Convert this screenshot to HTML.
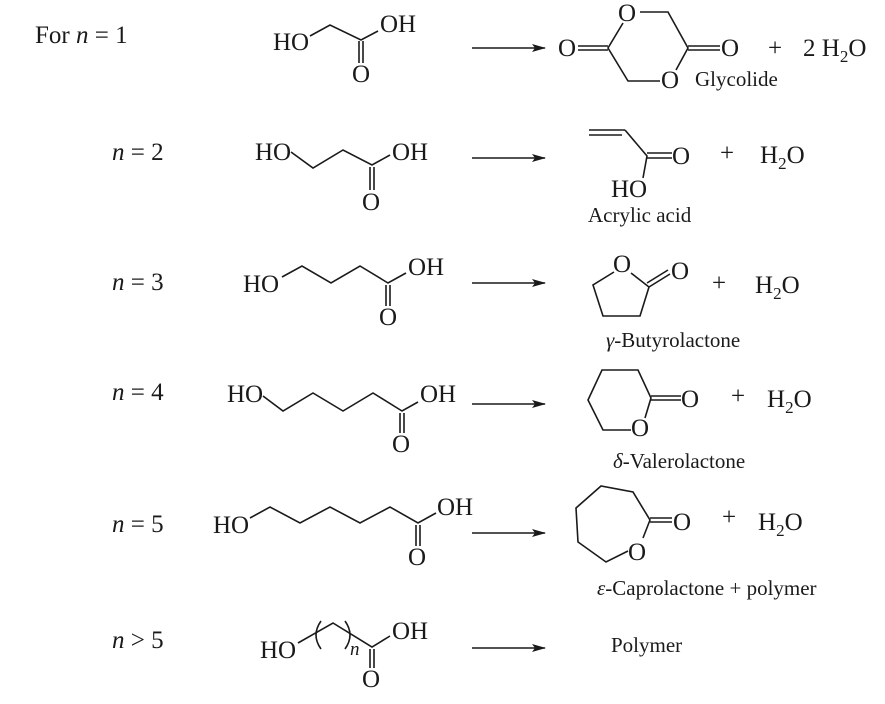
<!DOCTYPE html>
<html><head><meta charset="utf-8"><style>
html,body{margin:0;padding:0;background:#fff}
svg{display:block}
text{font-family:"Liberation Serif",serif;fill:#1a1a1a}
.t{font-size:25px}
.l{font-size:21px}
</style></head><body>
<svg width="885" height="704" viewBox="0 0 885 704" xmlns="http://www.w3.org/2000/svg">
<defs><marker id="ah" markerWidth="14" markerHeight="8" refX="13" refY="4" orient="auto" markerUnits="userSpaceOnUse"><path d="M0,0 L14,4 L0,8 L3,4 Z" fill="#1a1a1a"/></marker></defs>
<g stroke="#1a1a1a" stroke-width="1.6" fill="none">
<line x1="472" y1="48" x2="545" y2="48" marker-end="url(#ah)"/>
<line x1="472" y1="158" x2="545" y2="158" marker-end="url(#ah)"/>
<line x1="472" y1="283" x2="545" y2="283" marker-end="url(#ah)"/>
<line x1="472" y1="404" x2="545" y2="404" marker-end="url(#ah)"/>
<line x1="472" y1="533" x2="545" y2="533" marker-end="url(#ah)"/>
<line x1="472" y1="648" x2="545" y2="648" marker-end="url(#ah)"/>
<polyline points="310,36 330,25 361,40 378,31"/>
<line x1="359" y1="41" x2="359" y2="63"/><line x1="363" y1="41" x2="363" y2="63"/>
<polyline points="623,23 608,48 628,81 660,81"/>
<polyline points="640,12 668,12 688,48 676,70"/>
<line x1="578" y1="46" x2="608" y2="46"/><line x1="578" y1="50" x2="608" y2="50"/>
<line x1="688" y1="46" x2="720" y2="46"/><line x1="688" y1="50" x2="720" y2="50"/>
<polyline points="291,152 313,168 343,150 372,165 390,155"/>
<line x1="370" y1="167" x2="370" y2="190"/><line x1="374" y1="167" x2="374" y2="190"/>
<line x1="589" y1="130" x2="625" y2="130"/><line x1="589" y1="135" x2="622" y2="135"/>
<polyline points="625,130 647,156 643,178"/>
<line x1="647" y1="153" x2="672" y2="153"/><line x1="647" y1="158" x2="672" y2="158"/>
<polyline points="282,277 302,266 331,283 360,266 388,283 406,273"/>
<line x1="386" y1="285" x2="386" y2="306"/><line x1="390" y1="285" x2="390" y2="306"/>
<polyline points="614,272 593,285 603,316 640,316 649,287 631,273"/>
<line x1="649" y1="287" x2="670" y2="274"/><line x1="647" y1="283" x2="668" y2="270"/>
<polyline points="263,396 283,411 313,393 343,411 373,393 402,411 418,402"/>
<line x1="400" y1="413" x2="400" y2="433"/><line x1="404" y1="413" x2="404" y2="433"/>
<polyline points="645,418 651,398 638,370 602,370 588,400 603,430 631,430"/>
<line x1="651" y1="396" x2="681" y2="396"/><line x1="651" y1="400" x2="681" y2="400"/>
<polyline points="250,518 270,507 300,523 330,507 360,523 390,507 418,523 436,513"/>
<line x1="416" y1="525" x2="416" y2="546"/><line x1="420" y1="525" x2="420" y2="546"/>
<polyline points="643,538 650,520 633,492 601,486 576,508 578,542 606,562 628,551"/>
<line x1="650" y1="518" x2="672" y2="518"/><line x1="650" y1="522" x2="672" y2="522"/>
<polyline points="298,643 333,623 372,647 390,636"/>
<path d="M321,621 Q311,635 321,649"/>
<path d="M345,621 Q355,635 345,649"/>
<line x1="370" y1="649" x2="370" y2="668"/><line x1="374" y1="649" x2="374" y2="668"/>
</g>

<text class="t" x="35" y="43">For <tspan font-style="italic">n</tspan> = 1</text>
<text class="t" x="112" y="160"><tspan font-style="italic">n</tspan> = 2</text>
<text class="t" x="112" y="290"><tspan font-style="italic">n</tspan> = 3</text>
<text class="t" x="112" y="400"><tspan font-style="italic">n</tspan> = 4</text>
<text class="t" x="112" y="532"><tspan font-style="italic">n</tspan> = 5</text>
<text class="t" x="112" y="648"><tspan font-style="italic">n</tspan> &gt; 5</text>

<text class="t" x="273" y="50">HO</text>
<text class="t" x="380" y="32">OH</text>
<text class="t" x="352" y="82">O</text>
<text class="t" x="618" y="21">O</text>
<text class="t" x="558" y="56">O</text>
<text class="t" x="721" y="56">O</text>
<text class="t" x="661" y="88">O</text>
<text class="l" x="695" y="86">Glycolide</text>
<text class="t" x="768" y="56">+</text>
<text class="t" x="803" y="56">2 H<tspan font-size="17" dy="6">2</tspan><tspan dy="-6">O</tspan></text>

<text class="t" x="255" y="160">HO</text>
<text class="t" x="392" y="160">OH</text>
<text class="t" x="362" y="210">O</text>
<text class="t" x="672" y="164">O</text>
<text class="t" x="611" y="197">HO</text>
<text class="l" x="588" y="222">Acrylic acid</text>
<text class="t" x="720" y="161">+</text>
<text class="t" x="760" y="163">H<tspan font-size="17" dy="6">2</tspan><tspan dy="-6">O</tspan></text>

<text class="t" x="243" y="292">HO</text>
<text class="t" x="408" y="275">OH</text>
<text class="t" x="379" y="325">O</text>
<text class="t" x="613" y="272">O</text>
<text class="t" x="671" y="279">O</text>
<text class="t" x="712" y="291">+</text>
<text class="t" x="755" y="293">H<tspan font-size="17" dy="6">2</tspan><tspan dy="-6">O</tspan></text>
<text class="l" x="606" y="347"><tspan font-style="italic">γ</tspan>-Butyrolactone</text>

<text class="t" x="227" y="402">HO</text>
<text class="t" x="420" y="402">OH</text>
<text class="t" x="392" y="452">O</text>
<text class="t" x="631" y="436">O</text>
<text class="t" x="681" y="407">O</text>
<text class="t" x="731" y="404">+</text>
<text class="t" x="767" y="407">H<tspan font-size="17" dy="6">2</tspan><tspan dy="-6">O</tspan></text>
<text class="l" x="613" y="468"><tspan font-style="italic">δ</tspan>-Valerolactone</text>

<text class="t" x="213" y="533">HO</text>
<text class="t" x="437" y="515">OH</text>
<text class="t" x="408" y="565">O</text>
<text class="t" x="628" y="560">O</text>
<text class="t" x="673" y="530">O</text>
<text class="t" x="722" y="525">+</text>
<text class="t" x="758" y="530">H<tspan font-size="17" dy="6">2</tspan><tspan dy="-6">O</tspan></text>
<text class="l" x="597" y="595"><tspan font-style="italic">ε</tspan>-Caprolactone + polymer</text>

<text class="t" x="260" y="658">HO</text>
<text class="t" x="392" y="639">OH</text>
<text x="350" y="655" font-size="19" font-style="italic">n</text>
<text class="t" x="362" y="687">O</text>
<text class="l" x="611" y="652">Polymer</text>
</svg>
</body></html>
